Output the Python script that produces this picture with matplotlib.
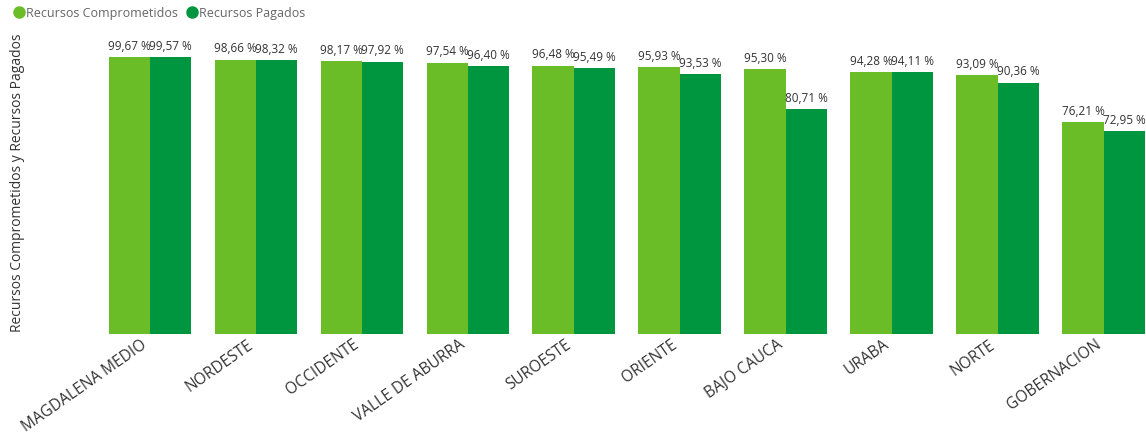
#!/usr/bin/env python3
# _*_ coding=utf-8 _*_

import numpy as np
import matplotlib
matplotlib.use("Agg")
import matplotlib.pyplot as plt
import matplotlib.transforms as mtransforms
from matplotlib.lines import Line2D

regiones = ["MAGDALENA MEDIO", "NORDESTE", "OCCIDENTE", "VALLE DE ABURRA",
            "SUROESTE", "ORIENTE", "BAJO CAUCA", "URABA", "NORTE",
            "GOBERNACION"]
comprometidos = [99.67, 98.66, 98.17, 97.54, 96.48, 95.93, 95.30, 94.28,
                 93.09, 76.21]
pagados = [99.57, 98.32, 97.92, 96.40, 95.49, 93.53, 80.71, 94.11, 90.36,
           72.95]
series_names = ["Recursos Comprometidos", "Recursos Pagados"]
colors = ["#6BBD28", "#00953F"]


def fmt(v):
    return ("%.2f %%" % v).replace(".", ",")


def main():
    plt.rcParams["font.family"] = ["Open Sans", "DejaVu Sans"]
    fig = plt.figure(figsize=(11.46, 4.38), dpi=100)
    ax = fig.add_axes([97 / 1146, 104 / 438, 1049 / 1146, 306 / 438])

    x = np.arange(len(regiones))
    w = 0.39
    b1 = ax.bar(x - w / 2, comprometidos, w, color=colors[0])
    b2 = ax.bar(x + w / 2, pagados, w, color=colors[1])
    for bars, vals in ((b1, comprometidos), (b2, pagados)):
        for r, v in zip(bars, vals):
            ax.annotate(fmt(v), (r.get_x() + r.get_width() / 2, v),
                        xytext=(0, 3), textcoords="offset points",
                        ha="center", va="bottom", fontsize=8.5,
                        color="#333333")

    ax.set_xlim(-0.5, 9.40)
    ax.set_ylim(0, 110)
    ax.set_yticks([])
    ax.set_xticks(x)
    ax.set_xticklabels(regiones, rotation=35, ha="right",
                       rotation_mode="anchor", fontsize=11.2,
                       color="#333333")
    ax.tick_params(axis="x", length=0, pad=2)
    # nudge the rotated labels a bit to the left, like the original
    shift = mtransforms.ScaledTranslation(-9 / 100, 0, fig.dpi_scale_trans)
    for lbl in ax.get_xticklabels():
        lbl.set_transform(lbl.get_transform() + shift)
    for s in ax.spines.values():
        s.set_visible(False)

    fig.text(18 / 1146, 255 / 438, "Recursos Comprometidos y Recursos Pagados",
             rotation=90, ha="center", va="center", fontsize=10,
             color="#333333")

    handles = [Line2D([], [], marker="o", linestyle="", markersize=8,
                      color=c) for c in colors]
    fig.legend(handles, series_names, loc="upper left",
               bbox_to_anchor=(0.0, 1.01), ncol=2, frameon=False,
               fontsize=9, labelcolor="#666666", handletextpad=0.0,
               columnspacing=0.5, handlelength=1.2)

    fig.savefig("out.png", dpi=100)


if __name__ == "__main__":
    main()
